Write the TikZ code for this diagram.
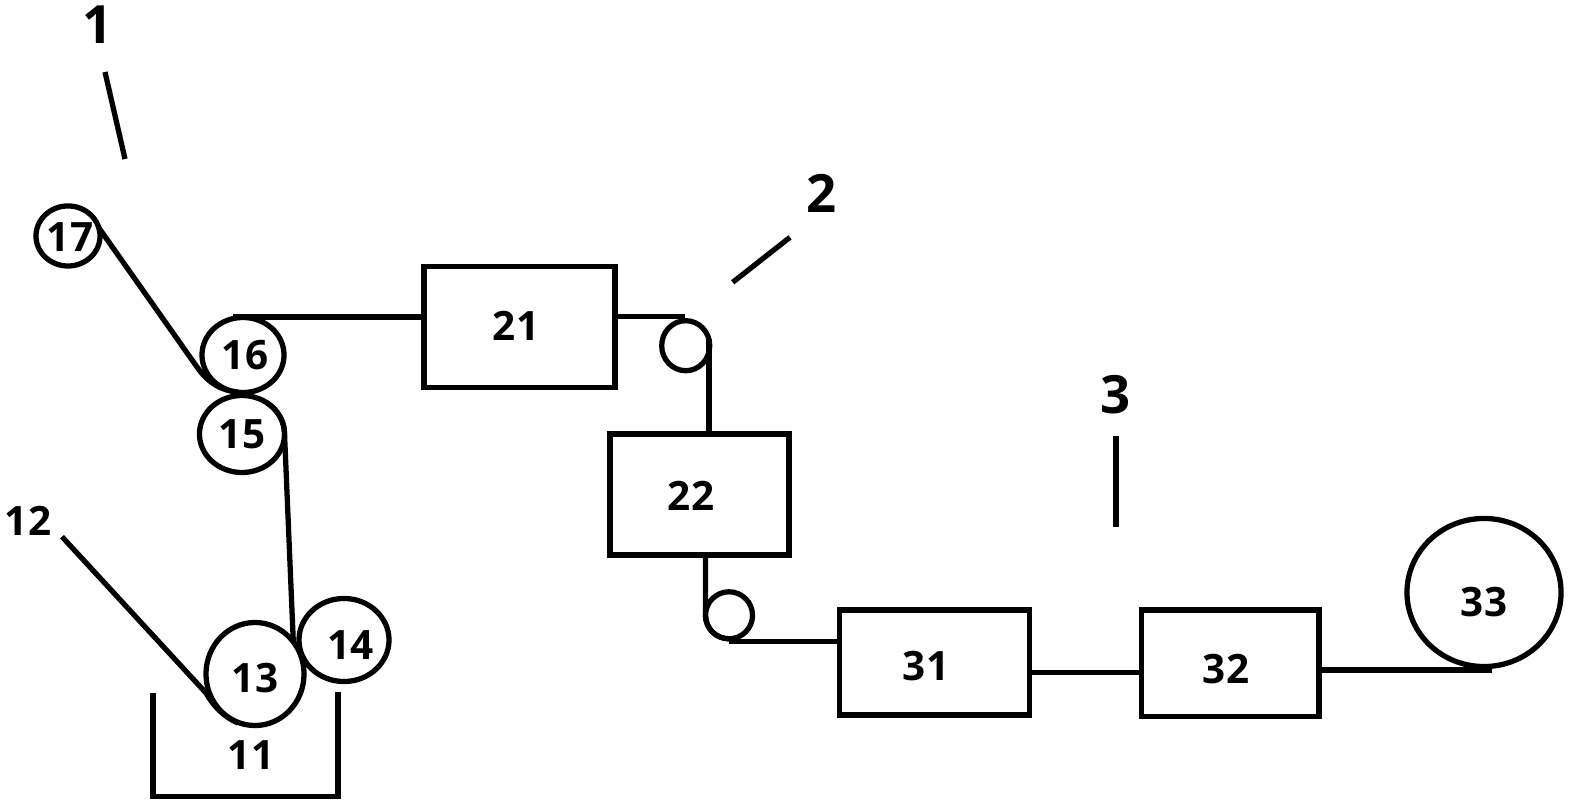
\documentclass[tikz,border=0pt]{standalone}
\usepackage{fontspec}
\usetikzlibrary{shapes.geometric}
\setmainfont{Open Sans}
\tikzset{
	roller/.style={draw, ellipse, inner sep=0pt, outer sep=0pt},
	unit/.style={draw, rectangle, inner sep=0pt, outer sep=0pt},
	num label/.style={font=\fontsize{11.5pt}{12pt}\selectfont\bfseries},
	mark label/.style={font=\fontsize{15pt}{16pt}\selectfont\bfseries}
}
\begin{document}
\begin{tikzpicture}[x=0.01cm, y=-0.01cm, line width=1.5pt, line join=miter, line cap=butt]
	\useasboundingbox (0,0) rectangle (1571,804);
	% rollers
	\node[roller, minimum width=0.64cm, minimum height=0.60cm] (c17) at (68,236) {};
	\node[roller, minimum width=0.82cm, minimum height=0.75cm] (c16) at (243,355) {};
	\node[roller, minimum width=0.85cm, minimum height=0.77cm] (c15) at (242,434) {};
	\node[roller, minimum width=0.90cm, minimum height=0.83cm] (c14) at (344,640) {};
	\node[roller, minimum width=0.98cm, minimum height=1.03cm] (c13) at (255,674) {};
	\node[roller, minimum width=0.48cm, minimum height=0.50cm] (c1a) at (685.7,345.7) {};
	\node[roller, minimum width=0.47cm, minimum height=0.47cm] (c2a) at (729,615.3) {};
	\node[roller, minimum width=1.54cm, minimum height=1.48cm] (c33) at (1484,592.5) {};
	% units
	\node[unit, minimum width=1.91cm, minimum height=1.21cm] (b21) at (519.5,327.2) {};
	\node[unit, minimum width=1.79cm, minimum height=1.21cm] (b22) at (699.5,494.5) {};
	\node[unit, minimum width=1.905cm, minimum height=1.05cm] (b31) at (934.5,662.5) {};
	\node[unit, minimum width=1.775cm, minimum height=1.067cm] (b32) at (1230.3,663.3) {};
	% tank
	\draw (153,692.7)--(153,796.7)--(338,796.7)--(338,691.7);
	% numbers
	\foreach \n/\x/\y in {17/70/237,16/245/355,15/242/434,14/350.7/645.5,13/255/678,12/28/521,11/251/755.5,
		21/516/326,22/691/496,31/926/666,32/1226/669,33/1484/602}
		\node[num label] (t\n) at (\x,\y) {\n};
	\node[mark label] (l1) at (98,25) {1};
	\node[mark label] (l2) at (822,193) {2};
	\node[mark label] (l3) at (1116,395) {3};
	% leader lines
	\coordinate (m1a) at (105,72);\coordinate (m1b) at (125,159);
	\coordinate (m2a) at (790,237.3);\coordinate (m2b) at (732.7,282.3);
	\coordinate (m3a) at (1116,436);\coordinate (m3b) at (1116,527);
	\draw (m1a)--(m1b);
	\draw (m2a)--(m2b);
	\draw (m3a)--(m3b);
	% film path
	\coordinate (m12) at (62,536.7);
	\coordinate (w13) at (206,693);
	\coordinate (w16) at (197,367);
	\coordinate (p16) at (233,317);
	\coordinate (p1a) at (685,316.7);
	\coordinate (p2a) at (729,641.7);
	\coordinate (p33) at (1492,670);
	\draw (m12)--(w13) .. controls (213,705) and (222,716) .. (238,723);
	\draw (c13.40)--(c15.east) arc[start angle=0, end angle=-55, x radius=42.5, y radius=38.5];
	\draw (c17.15)--(w16) .. controls (208,383) and (222,391) .. (238,392);
	\draw (p16)--(b21.west |- p16);
	\draw (b21.east |- p1a)--(p1a);
	\draw (c1a.15)--(c1a.15 |- b22.north);
	\draw (b22.south -| c2a.west)--(c2a.west) arc[start angle=180, end angle=90, radius=23.5];
	\draw (p2a)--(b31.west |- p2a);
	\draw (b31.east |- 0,672.7)--(b32.west |- 0,672.7);
	\draw (b32.east |- p33)--(p33);
\end{tikzpicture}
\end{document}
